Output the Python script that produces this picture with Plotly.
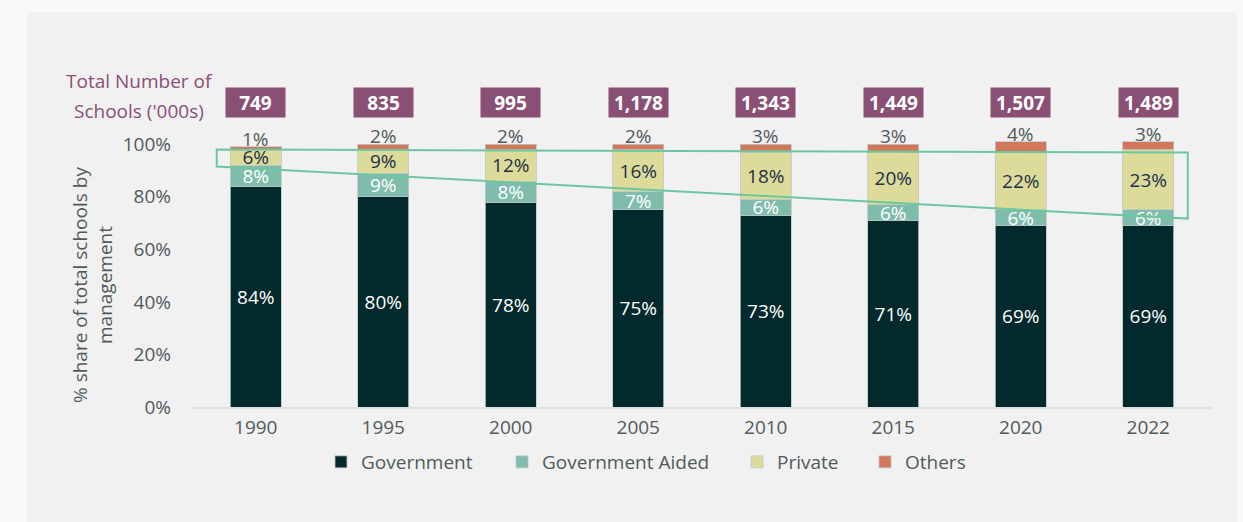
import plotly.graph_objects as go

# School counts by management type (share of total schools, %)
years = ["1990", "1995", "2000", "2005", "2010", "2015", "2020", "2022"]
government = [84, 80, 78, 75, 73, 71, 69, 69]
govt_aided = [8, 9, 8, 7, 6, 6, 6, 6]
private = [6, 9, 12, 16, 18, 20, 22, 23]
others = [1, 2, 2, 2, 3, 3, 4, 3]
total_schools = [749, 835, 995, 1178, 1343, 1449, 1507, 1489]  # '000s

FONT = "Open Sans"
FS = 19
GREY = "#505b5b"
PURPLE = "#8a4f74"

# plot-area geometry in pixels (used to place text outside the axes)
W, H = 1243, 522
L, R, T, B = 192, 31, 139, 115
PW, PH = W - L - R, H - T - B


def px_x(x):
    return (x - L) / PW


def px_y(y):
    return (H - B - y) / PH


xpos = list(range(len(years)))

# name, values, fill, label colour, legend id, legend left edge (px)
series = [
    ("Government", government, "#02292b", "white", "legend", 321),
    ("Government Aided", govt_aided, "#7fbcab", "white", "legend2", 502),
    ("Private", private, "#dddb9a", "#22304a", "legend3", 737),
    ("Others", others, "#d3775b", GREY, "legend4", 865),
]

fig = go.Figure()
legends = {}
for name, vals, color, tcolor, leg, lx in series:
    inside = name != "Others"
    fig.add_trace(go.Bar(
        x=xpos, y=vals, name=name, legend=leg,
        marker=dict(color=color, line=dict(color="rgba(190,200,200,0.8)", width=1)),
        text=[f"{v}%" for v in vals] if inside else None,
        textposition="inside" if inside else "none",
        insidetextanchor="middle",
        constraintext="none",
        textfont=dict(family=FONT, size=FS, color=tcolor),
        cliponaxis=False,
        hoverinfo="skip",
    ))
    legends[leg] = dict(
        orientation="h", x=px_x(lx), xanchor="left",
        y=px_y(462), yanchor="middle",
        font=dict(family=FONT, size=FS, color=GREY),
        bgcolor="rgba(0,0,0,0)",
    )

# panel background
shapes = [dict(
    type="rect", xref="paper", yref="paper", layer="below",
    x0=px_x(27), x1=px_x(1237), y0=px_y(12), y1=px_y(H + 5),
    fillcolor="#f1f1f1", line=dict(width=0),
)]
# highlight around the private-school band
shapes.append(dict(
    type="path", xref="x", yref="y", layer="above",
    path="M -0.306,98.0 L 7.31,96.9 L 7.31,71.7 L -0.306,91.5 Z",
    line=dict(color="#6cc7a1", width=2),
))

annotations = []
# "Others" share sits just above the top of each stack
for i in xpos:
    top = government[i] + govt_aided[i] + private[i] + others[i]
    annotations.append(dict(
        x=i, xref="x", y=top, yref="y", yshift=8,
        text=f"{others[i]}%", showarrow=False,
        font=dict(family=FONT, size=FS, color=GREY),
        xanchor="center", yanchor="middle",
    ))

for i, tot in zip(xpos, total_schools):
    annotations.append(dict(
        x=i, xref="x", y=px_y(102.5), yref="paper",
        text=f"<b>{tot:,}</b>", showarrow=False,
        font=dict(family=FONT, size=FS, color="white"),
        bgcolor=PURPLE, width=57, height=27, borderpad=1,
        xanchor="center", yanchor="middle",
    ))

for txt, yy in [("Total Number of", 81), ("Schools ('000s)", 111)]:
    annotations.append(dict(
        x=px_x(139), xref="paper", y=px_y(yy), yref="paper",
        text=txt, showarrow=False,
        font=dict(family=FONT, size=FS, color=PURPLE),
        xanchor="center", yanchor="middle",
    ))

for txt, xx in [("% share of total schools by", 80), ("management", 105)]:
    annotations.append(dict(
        x=px_x(xx), xref="paper", y=px_y(285), yref="paper",
        text=txt, showarrow=False, textangle=-90,
        font=dict(family=FONT, size=FS, color=GREY),
        xanchor="center", yanchor="middle",
    ))

fig.update_layout(
    width=W, height=H,
    margin=dict(l=L, r=R, t=T, b=B),
    paper_bgcolor="#fafafa",
    plot_bgcolor="rgba(0,0,0,0)",
    barmode="stack",
    bargap=0.6,
    font=dict(family=FONT, size=FS, color=GREY),
    shapes=shapes,
    annotations=annotations,
    showlegend=True,
    xaxis=dict(
        range=[-0.5, len(years) - 0.5], showgrid=False, zeroline=False,
        showline=True, linecolor="#dce2e2", linewidth=1.5, ticks="",
        tickvals=xpos, ticktext=years, ticklabelstandoff=2,
        tickfont=dict(family=FONT, size=FS, color=GREY),
    ),
    yaxis=dict(
        range=[0, 102], showgrid=False, zeroline=False, showline=False,
        tickvals=[0, 20, 40, 60, 80, 100],
        ticktext=[f"{v}%" for v in [0, 20, 40, 60, 80, 100]],
        ticklabelstandoff=20,
        tickfont=dict(family=FONT, size=FS, color=GREY),
    ),
    **legends,
)

fig.write_html("out.html")
